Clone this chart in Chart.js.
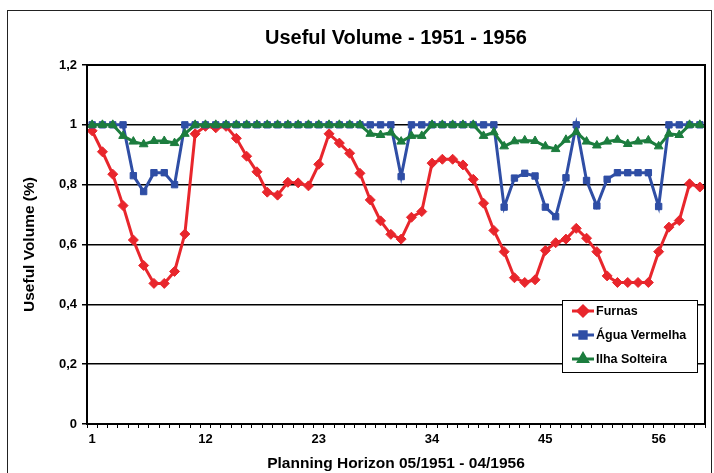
<!DOCTYPE html>
<html>
<head>
<meta charset="utf-8">
<script src="https://cdn.jsdelivr.net/npm/chart.js@4/dist/chart.umd.min.js"></script>
<style>
  html, body { margin: 0; padding: 0; background: #fff; }
  #wrap { position: relative; width: 714px; height: 473px; }
</style>
</head>
<body>
<div id="wrap"><canvas id="chart" width="714" height="473"></canvas></div>
<script>
// Planning horizon months 1..60
const months = [];
for (let i = 1; i <= 60; i++) months.push(String(i));

// labels shown on the x axis
const shownTicks = ['1', '12', '23', '34', '45', '56'];

const furnas = [
  0.98, 0.91, 0.835, 0.73, 0.615, 0.53, 0.47, 0.47, 0.51, 0.635,
  0.97, 0.995, 0.99, 0.995, 0.955, 0.895, 0.843, 0.775, 0.765, 0.808,
  0.806, 0.796, 0.868, 0.97, 0.939, 0.905, 0.838, 0.749, 0.679, 0.634,
  0.618, 0.691, 0.71, 0.872, 0.885, 0.885, 0.866, 0.818, 0.738, 0.647,
  0.576, 0.489, 0.473, 0.482, 0.58, 0.606, 0.618, 0.654, 0.621, 0.576,
  0.495, 0.473, 0.473, 0.473, 0.473, 0.576, 0.658, 0.68, 0.803, 0.792
];

const aguaVermelha = [
  1, 1, 1, 1, 0.83, 0.777, 0.84, 0.84, 0.80, 1,
  1, 1, 1, 1, 1, 1, 1, 1, 1, 1,
  1, 1, 1, 1, 1, 1, 1, 1, 1, 1,
  0.827, 1, 1, 1, 1, 1, 1, 1, 1, 1,
  0.725, 0.822, 0.838, 0.829, 0.725, 0.693, 0.823, 1, 0.814, 0.729,
  0.818, 0.84, 0.84, 0.84, 0.84, 0.727, 1, 1, 1, 1
];

const ilhaSolteira = [
  1, 1, 1, 0.963, 0.944, 0.935, 0.946, 0.946, 0.939, 0.97,
  1, 1, 1, 1, 1, 1, 1, 1, 1, 1,
  1, 1, 1, 1, 1, 1, 1, 0.97, 0.966, 0.974,
  0.944, 0.963, 0.963, 1, 1, 1, 1, 1, 0.963, 0.975,
  0.928, 0.945, 0.948, 0.946, 0.928, 0.919, 0.95, 0.976, 0.944, 0.931,
  0.944, 0.95, 0.936, 0.944, 0.948, 0.928, 0.97, 0.966, 1, 1
];

const RED = '#E8262C';
const BLUE = '#2F4EA5';
const GREEN = '#1C7D3E';
const FONT = "'Liberation Sans', Arial, sans-serif";

function series(label, data, color, style, radius, order) {
  return {
    label: label,
    data: data,
    borderColor: color,
    backgroundColor: color,
    borderWidth: 3,
    pointStyle: style,
    pointRadius: radius,
    pointBorderWidth: 1,
    pointBorderColor: color,
    pointBackgroundColor: color,
    tension: 0,
    order: order
  };
}

// outer frame + plot frame
const framePlugin = {
  id: 'frames',
  afterDraw(chart) {
    const ctx = chart.ctx;
    const a = chart.chartArea;
    ctx.save();
    ctx.strokeStyle = '#000';
    ctx.lineWidth = 2;
    ctx.strokeRect(a.left, a.top, a.right - a.left, a.bottom - a.top);
    ctx.lineWidth = 1;
    ctx.strokeStyle = '#222';
    ctx.strokeRect(7.5, 10.5, 704, 480);
    ctx.restore();
  }
};

// boxed legend inside the plot, bottom right
const legendPlugin = {
  id: 'boxLegend',
  afterDraw(chart) {
    const ctx = chart.ctx;
    const x = 562, y = 300, w = 135, h = 72;
    ctx.save();
    ctx.fillStyle = '#fff';
    ctx.fillRect(x, y, w, h);
    ctx.strokeStyle = '#000';
    ctx.lineWidth = 1;
    ctx.strokeRect(x + 0.5, y + 0.5, w, h);
    ctx.font = 'bold 12.5px ' + FONT;
    ctx.textBaseline = 'middle';
    chart.data.datasets.forEach((ds, i) => {
      const cy = y + 11 + i * 24;
      ctx.strokeStyle = ds.borderColor;
      ctx.lineWidth = 3;
      ctx.beginPath();
      ctx.moveTo(x + 10, cy);
      ctx.lineTo(x + 32, cy);
      ctx.stroke();
      ctx.fillStyle = ds.borderColor;
      Chart.helpers.drawPoint(ctx, { pointStyle: ds.pointStyle, radius: ds.pointRadius, borderWidth: 1 }, x + 21, cy);
      ctx.fill();
      ctx.fillStyle = '#000';
      ctx.fillText(ds.label, x + 34, cy + 1);
    });
    ctx.restore();
  }
};

new Chart(document.getElementById('chart'), {
  type: 'line',
  data: {
    labels: months,
    datasets: [
      series('Furnas', furnas, RED, 'rectRot', 5, 3),
      series('Água Vermelha', aguaVermelha, BLUE, 'rect', 4.5, 2),
      series('Ilha Solteira', ilhaSolteira, GREEN, 'triangle', 5, 1)
    ]
  },
  options: {
    responsive: false,
    animation: false,
    layout: { padding: { top: 26, right: 9, left: 0, bottom: 0 } },
    plugins: {
      legend: { display: false },
      tooltip: { enabled: false },
      title: {
        display: true,
        fullSize: false,
        text: 'Useful Volume - 1951 - 1956',
        color: '#000',
        font: { family: FONT, size: 20, weight: 'bold' },
        padding: { top: 0, bottom: 15 }
      }
    },
    scales: {
      x: {
        offset: true,
        grid: { drawOnChartArea: false, color: '#000', tickLength: 4, offset: true },
        border: { color: '#000', width: 2 },
        ticks: {
          autoSkip: false,
          maxRotation: 0,
          padding: 4,
          color: '#000',
          font: { family: FONT, size: 13, weight: 'bold' },
          callback: function (v) {
            const l = this.getLabelForValue(v);
            return shownTicks.includes(l) ? l : '';
          }
        },
        title: {
          display: true,
          text: 'Planning Horizon 05/1951 - 04/1956',
          color: '#000',
          font: { family: FONT, size: 15.5, weight: 'bold' },
          padding: { top: 0, bottom: 0 }
        },
        afterFit: (s) => { s.height = 49; }
      },
      y: {
        min: 0,
        max: 1.2,
        grid: { color: '#000', lineWidth: 1.5, tickLength: 5 },
        border: { color: '#000', width: 2 },
        ticks: {
          stepSize: 0.2,
          padding: 5,
          color: '#000',
          font: { family: FONT, size: 13, weight: 'bold' },
          callback: (v) => {
            const r = Math.round(v * 10) / 10;
            return Number.isInteger(r) ? String(r) : r.toFixed(1).replace('.', ',');
          }
        },
        title: {
          display: true,
          text: 'Useful Volume (%)',
          color: '#000',
          font: { family: FONT, size: 15.5, weight: 'bold' },
          padding: { top: 20, bottom: 0 }
        },
        afterFit: (s) => { s.width = 87; }
      }
    }
  },
  plugins: [framePlugin, legendPlugin]
});
</script>
</body>
</html>
